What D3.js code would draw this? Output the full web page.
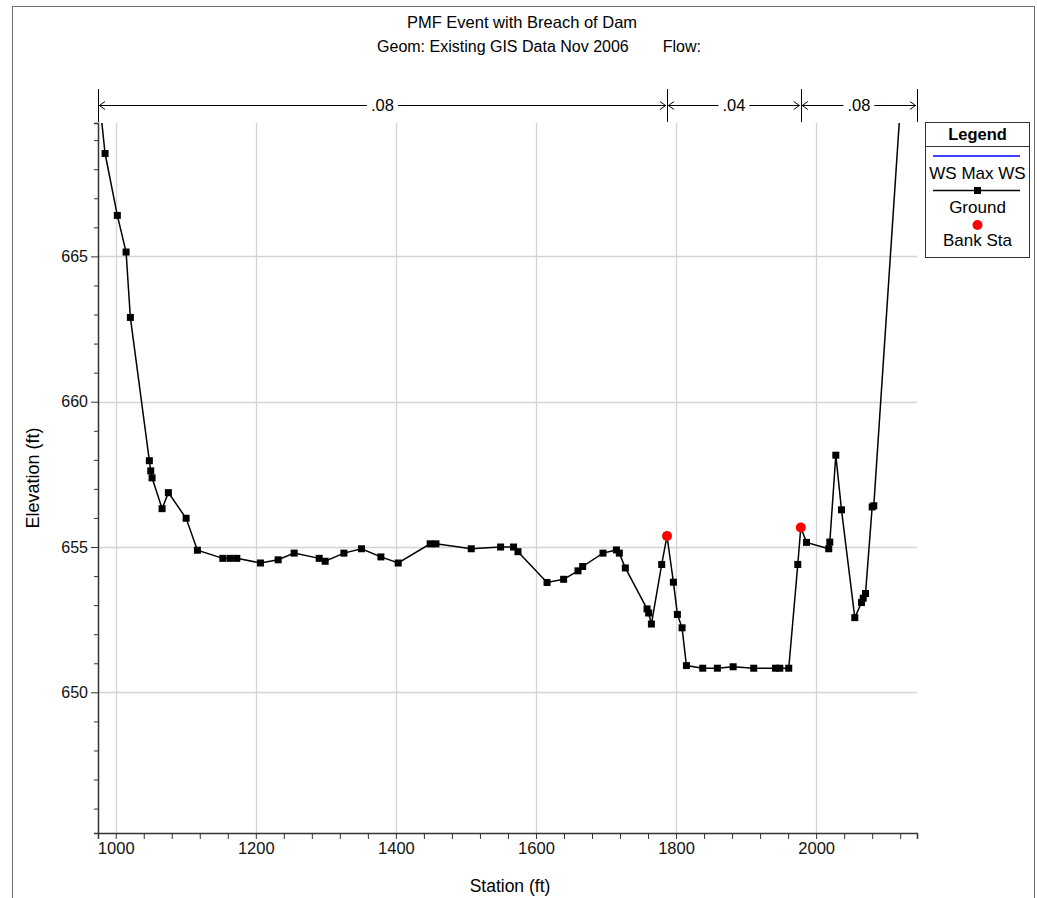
<!DOCTYPE html>
<html><head><meta charset="utf-8">
<script src="https://cdn.jsdelivr.net/npm/d3@7"></script>
<style>body{margin:0;background:#fff}svg{display:block;font-family:Arial,"Liberation Sans",sans-serif}</style>
</head><body><svg id="c" width="1037" height="898"></svg>
<script>
const titleText = "PMF Event with Breach of Dam";
const subtitleParts = ["Geom: Existing GIS Data Nov 2006", "Flow:"];
const xLabel = "Station (ft)";
const yLabel = "Elevation (ft)";
const stations = [974.7,984.8,1002.3,1014.8,1020.9,1048.0,1050.0,1051.9,1066.2,1075.2,1100.5,1116.6,1152.9,1163.3,1172.9,1206.6,1231.9,1254.8,1290.5,1299.0,1325.8,1350.9,1378.6,1403.3,1449.0,1457.2,1507.6,1549.5,1568.0,1574.3,1615.8,1639.5,1660.0,1666.7,1695.7,1714.8,1719.0,1727.6,1758.6,1760.9,1764.8,1779.5,1787.1,1796.2,1801.9,1808.6,1814.8,1838.1,1859.0,1881.5,1910.9,1941.9,1948.1,1960.9,1973.8,1978.1,1986.2,2018.0,2019.5,2028.1,2036.2,2055.2,2064.8,2067.2,2070.5,2080.0,2082.3,2144.0];
const elevations = [670.86,668.54,666.41,665.15,662.90,657.97,657.62,657.38,656.32,656.87,655.99,654.89,654.61,654.61,654.61,654.45,654.56,654.79,654.61,654.51,654.79,654.94,654.66,654.45,655.11,655.11,654.94,655.0,655.0,654.84,653.78,653.89,654.18,654.33,654.79,654.90,654.79,654.28,652.87,652.73,652.35,654.40,655.38,653.79,652.68,652.22,650.92,650.83,650.83,650.88,650.83,650.83,650.83,650.83,654.40,655.67,655.16,654.94,655.17,658.16,656.28,652.57,653.09,653.24,653.40,656.38,656.42,678.8];
const bankStations = [1787.1,1978.1];
const bankElevations = [655.38,655.67];
const manningBreaks = [974.7,1787.1,1978.1,2144.0];
const manningValues = [".08",".04",".08"];
const xTickLabels = [1000,1200,1400,1600,1800,2000];
const yTickLabels = [650,655,660,665];
const legendLabels = ["WS Max WS","Ground","Bank Sta"];

const svg = d3.select("#c");
const L=98, R=917, T=123, B=833;
const x = d3.scaleLinear().domain([974.7,2144.0]).range([L,R]);
const y = d3.scaleLinear().domain([645.16,669.59]).range([B,T]);

// frame
svg.append("rect").attr("x",12.5).attr("y",6.5).attr("width",1022).attr("height",900)
  .attr("fill","none").attr("stroke","#6e6e6e").attr("stroke-width",1);

// titles
svg.append("text").attr("x",522).attr("y",28).attr("text-anchor","middle").attr("font-size",16.5).text(titleText);
const st = svg.append("text").attr("x",539).attr("y",52).attr("text-anchor","middle").attr("font-size",16);
st.append("tspan").text(subtitleParts[0]);
st.append("tspan").attr("dx",34).text(subtitleParts[1]);

// grid
const g = svg.append("g");
g.selectAll(".vg").data(xTickLabels).join("line")
  .attr("x1",d=>Math.round(x(d))+0.5).attr("x2",d=>Math.round(x(d))+0.5).attr("y1",T).attr("y2",B)
  .attr("stroke","#d4d4d4").attr("stroke-width",1.3);
g.selectAll(".hg").data(yTickLabels).join("line")
  .attr("y1",d=>Math.round(y(d))+0.5).attr("y2",d=>Math.round(y(d))+0.5).attr("x1",L).attr("x2",R)
  .attr("stroke","#d4d4d4").attr("stroke-width",1.3);

// axes
const xAxis = d3.axisBottom(x).tickValues(d3.range(1000,2144,40)).tickSizeOuter(0)
  .tickSize(6).tickFormat(d=> d%200===0 ? d : "");
const xg = svg.append("g").attr("transform",`translate(0,${B})`).call(xAxis);
xg.selectAll("text").attr("font-size",16.5).attr("font-family","Arial").attr("fill","#111").attr("dy","0.75em");
xg.selectAll("line").attr("stroke","#333");
xg.select(".domain").attr("stroke","#333").attr("stroke-width",1.5);

const yMinor = d3.range(646,670,1);
const yAxis = d3.axisLeft(y).tickValues(yMinor).tickSizeOuter(0)
  .tickSize(4).tickFormat(d=> d%5===0 ? d : "");
const yg = svg.append("g").attr("transform",`translate(${L},0)`).call(yAxis);
yg.selectAll(".tick").filter(d=>d%5===0).select("line").attr("x2",-7);
yg.selectAll("text").attr("font-size",16).attr("font-family","Arial").attr("fill","#111").attr("x",-10);
yg.selectAll("line").attr("stroke","#333");
yg.select(".domain").attr("stroke","#333").attr("stroke-width",1.5);

svg.append("text").attr("x",510).attr("y",892).attr("text-anchor","middle").attr("font-size",17.5).text(xLabel);
svg.append("text").attr("transform","translate(39,478) rotate(-90)").attr("text-anchor","middle").attr("font-size",18).text(yLabel);

// clip
svg.append("clipPath").attr("id","pc").append("rect").attr("x",L).attr("y",T).attr("width",R-L+1).attr("height",B-T);
const plot = svg.append("g").attr("clip-path","url(#pc)");
const pts = stations.map((s,i)=>[s,elevations[i]]);
plot.append("path").datum(pts).attr("d",d3.line().x(d=>x(d[0])).y(d=>y(d[1])))
  .attr("fill","none").attr("stroke","#000").attr("stroke-width",1.5);
plot.selectAll(".m").data(pts).join("rect")
  .attr("x",d=>x(d[0])-3.5).attr("y",d=>y(d[1])-3.5).attr("width",7).attr("height",7).attr("fill","#000");
plot.selectAll(".b").data(bankStations).join("circle")
  .attr("cx",d=>x(d)).attr("cy",(d,i)=>y(bankElevations[i])).attr("r",5).attr("fill","#ff0000");

// manning n
const mY = 105;
const mg = svg.append("g");
mg.selectAll(".mt").data(manningBreaks).join("line")
  .attr("x1",d=>Math.round(x(d))+0.5).attr("x2",d=>Math.round(x(d))+0.5).attr("y1",89).attr("y2",122)
  .attr("stroke","#000").attr("stroke-width",1);
manningValues.forEach((v,i)=>{
  const x0 = x(manningBreaks[i]), x1 = x(manningBreaks[i+1]);
  const cx = (x0+x1)/2;
  const t = mg.append("text").attr("x",cx).attr("y",mY+6).attr("text-anchor","middle").attr("font-size",16.5).text(v);
  const w = t.node().getComputedTextLength();
  const gap = w/2+4;
  mg.append("line").attr("x1",x0+1).attr("x2",cx-gap).attr("y1",mY+0.5).attr("y2",mY+0.5).attr("stroke","#000");
  mg.append("line").attr("x1",cx+gap).attr("x2",x1-1).attr("y1",mY+0.5).attr("y2",mY+0.5).attr("stroke","#000");
  mg.append("path").attr("d",`M${x0+7},${mY-3.5}L${x0+1.5},${mY+0.5}L${x0+7},${mY+4.5}`).attr("fill","none").attr("stroke","#000");
  mg.append("path").attr("d",`M${x1-7},${mY-3.5}L${x1-1.5},${mY+0.5}L${x1-7},${mY+4.5}`).attr("fill","none").attr("stroke","#000");
});

// legend
const lg = svg.append("g");
lg.append("rect").attr("x",925.5).attr("y",122.5).attr("width",104).attr("height",135).attr("fill","#fff").attr("stroke","#333");
lg.append("line").attr("x1",925.5).attr("x2",1029.5).attr("y1",146.5).attr("y2",146.5).attr("stroke","#333");
lg.append("text").attr("x",977.5).attr("y",139.5).attr("text-anchor","middle").attr("font-size",16.5).attr("font-weight","bold").text("Legend");
lg.append("line").attr("x1",933).attr("x2",1020).attr("y1",156).attr("y2",156).attr("stroke","#0000ff").attr("stroke-width",1.5);
lg.append("text").attr("x",977.5).attr("y",178.5).attr("text-anchor","middle").attr("font-size",17).text(legendLabels[0]);
lg.append("line").attr("x1",933).attr("x2",1020).attr("y1",190.5).attr("y2",190.5).attr("stroke","#000").attr("stroke-width",1.5);
lg.append("rect").attr("x",974).attr("y",187).attr("width",7).attr("height",7).attr("fill","#000");
lg.append("text").attr("x",977.5).attr("y",212.5).attr("text-anchor","middle").attr("font-size",17).text(legendLabels[1]);
lg.append("circle").attr("cx",977.5).attr("cy",225).attr("r",5).attr("fill","#ff0000");
lg.append("text").attr("x",977.5).attr("y",246).attr("text-anchor","middle").attr("font-size",17).text(legendLabels[2]);
</script></body></html>
